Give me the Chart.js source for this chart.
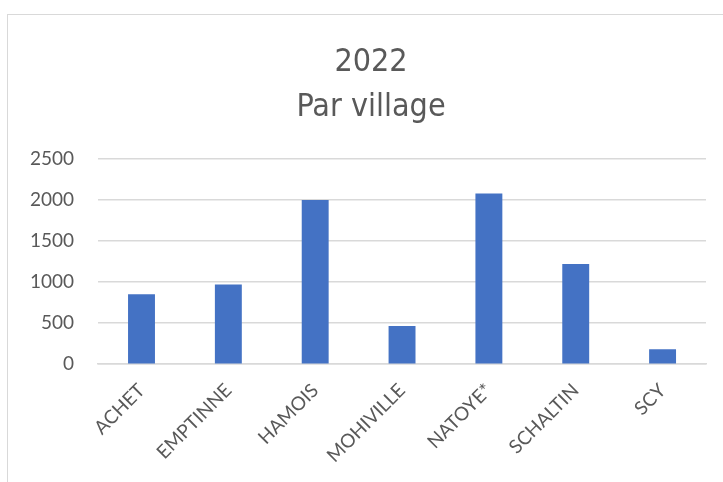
<!DOCTYPE html>
<html lang="fr">
<head>
  <meta charset="UTF-8" />
  <title>2022 - Par village</title>
  <script src="https://cdn.jsdelivr.net/npm/chart.js"></script>
  <style>
    html, body { margin: 0; padding: 0; background: #fff; overflow: hidden; }
    #frame {
      position: absolute; left: 7px; top: 14px;
      width: 800px; height: 600px;
      border: 1px solid #d9d9d9; box-sizing: border-box;
    }
    #wrap { position: absolute; left: 0; top: 0; width: 723px; height: 482px; }
  </style>
</head>
<body>
<div id="frame"></div>
<div id="wrap"><canvas id="chart"></canvas></div>

<script>
const villages = ["ACHET", "EMPTINNE", "HAMOIS", "MOHIVILLE", "NATOYE*", "SCHALTIN", "SCY"];
const values = [851, 970, 1998, 465, 2077, 1217, 182];
const titleLines = ["2022", "Par village"];

const grey = "#595959";
const gridGrey = "#d9d9d9";

// Excel centres the title on the whole frame, not on the padded box
const shiftTitle = {
  id: "shiftTitle",
  afterLayout(chart) {
    if (chart.titleBlock) chart.titleBlock.left += 30;
  }
};

new Chart(document.getElementById("chart"), {
  type: "bar",
  data: {
    labels: villages,
    datasets: [{
      data: values,
      backgroundColor: "#4472c4",
      categoryPercentage: 1,
      barPercentage: 0.31
    }]
  },
  options: {
    responsive: true,
    maintainAspectRatio: false,
    animation: false,
    layout: { padding: { left: 6, right: 17, top: 40, bottom: 0 } },
    plugins: {
      legend: { display: false },
      tooltip: { enabled: false },
      title: {
        display: true,
        text: titleLines,
        color: grey,
        font: { family: "'Liberation Sans Narrow', 'DejaVu Sans Condensed', sans-serif", size: 32, weight: "normal", lineHeight: 1.4 },
        padding: { top: 0, bottom: 29 }
      }
    },
    scales: {
      x: {
        grid: { display: false, drawTicks: false },
        border: { color: gridGrey, width: 1.5 },
        ticks: {
          color: grey,
          font: { family: "Lato, sans-serif", size: 19 },
          minRotation: 45,
          maxRotation: 45,
          padding: 15
        }
      },
      y: {
        min: 0,
        max: 2500,
        grid: { color: gridGrey, lineWidth: 1.5, drawTicks: false },
        border: { display: false },
        ticks: {
          stepSize: 500,
          color: grey,
          font: { family: "Lato, sans-serif", size: 19 },
          padding: 24,
          callback: v => String(v)
        }
      }
    }
  },
  plugins: [shiftTitle]
});
</script>
</body>
</html>
